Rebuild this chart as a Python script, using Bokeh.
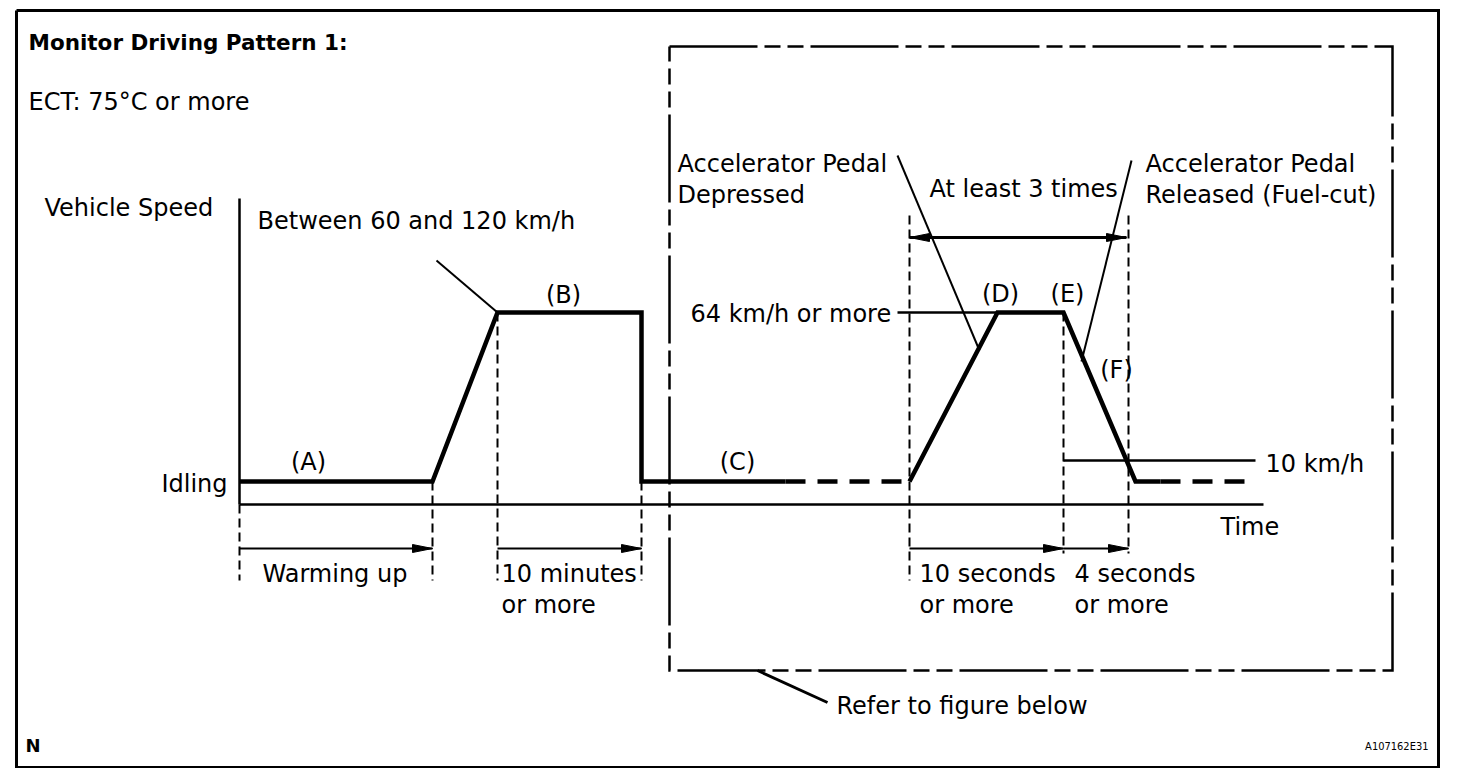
from bokeh.plotting import figure
from bokeh.models import Range1d
from bokeh.embed import file_html
from bokeh.resources import INLINE
from bokeh.core.properties import value

# ---------------- diagram data (page-layout coordinates) ----------------
IDLE_Y, HIGH_Y, TEN_Y, BASE_Y = 481, 312, 460, 504

# vehicle speed profile: solid parts
speed_solid_t = [[239, 432, 497, 641, 641, 785], [909, 997, 1063, 1135, 1160]]
speed_solid_v = [[IDLE_Y, IDLE_Y, HIGH_Y, HIGH_Y, IDLE_Y, IDLE_Y],
                 [IDLE_Y, HIGH_Y, HIGH_Y, IDLE_Y, IDLE_Y]]
# vehicle speed profile: dashed (repeat) parts
speed_dash_t = [[785, 909], [1160, 1255]]
speed_dash_v = [[IDLE_Y, IDLE_Y], [IDLE_Y, IDLE_Y]]

# reference levels (thin solid lines)
ref_t = [[897, 997], [1063, 1255], [239, 1263], [239, 239]]
ref_v = [[HIGH_Y, HIGH_Y], [TEN_Y, TEN_Y], [BASE_Y, BASE_Y], [198, BASE_Y]]

# phase boundaries (thin dashed verticals)
guide_t = [239, 432, 497, 641, 909, 1063, 1128]
guide_top = [BASE_Y, IDLE_Y, HIGH_Y, IDLE_Y, 215, HIGH_Y, 215]
guide_bottom = [580, 580, 580, 580, 580, 553, 553]

# duration arrows  (start, end, level)
arrow_start = [239, 497, 909, 1063]
arrow_end = [432, 641, 1063, 1128]
arrow_y = 548
# "At least 3 times" double arrow
repeat_start, repeat_end, repeat_y = 909, 1126, 237

# leader lines
leader_x = [[436, 497], [897, 979], [1131, 1081], [757, 827]]
leader_y = [[260, 312], [155, 350], [160, 361], [670, 702]]
leader_w = [2, 2, 2, 3]

# outer frame and "refer to figure below" box
frame_x = [16, 1438, 1438, 16, 16]
frame_y = [10, 10, 767, 767, 10]
box_x = [669, 1392, 1392, 669, 669]
box_y = [46, 46, 670, 670, 46]

# text labels: (text, x, baseline-y, align)
labels = [
    ("ECT: 75°C or more", 28, 101, "left"),
    ("Vehicle Speed", 44, 207, "left"),
    ("Between 60 and 120 km/h", 257, 220, "left"),
    ("Accelerator Pedal", 677, 163, "left"),
    ("Depressed", 677, 194, "left"),
    ("At least 3 times", 929, 188, "left"),
    ("Accelerator Pedal", 1145, 163, "left"),
    ("Released (Fuel-cut)", 1145, 194, "left"),
    ("(B)", 563, 294, "center"),
    ("64 km/h or more", 690, 313, "left"),
    ("(D)", 1000, 293, "center"),
    ("(E)", 1067, 293, "center"),
    ("(F)", 1116, 369, "center"),
    ("(A)", 308, 461, "center"),
    ("(C)", 737, 461, "center"),
    ("Idling", 227, 483, "right"),
    ("10 km/h", 1265, 463, "left"),
    ("Time", 1220, 526, "left"),
    ("Warming up", 262, 573, "left"),
    ("10 minutes", 501, 573, "left"),
    ("or more", 501, 604, "left"),
    ("10 seconds", 919, 573, "left"),
    ("or more", 919, 604, "left"),
    ("4 seconds", 1074, 573, "left"),
    ("or more", 1074, 604, "left"),
    ("Refer to figure below", 836, 705, "left"),
]

FONT = "DejaVu Sans"

# ---------------- figure ----------------
p = figure(width=1456, height=768, x_range=Range1d(0, 1456), y_range=Range1d(768, 0),
           output_backend="svg", toolbar_location=None, x_axis_type=None, y_axis_type=None,
           min_border=0, min_border_left=0, min_border_right=0, min_border_top=0,
           min_border_bottom=0)
p.grid.visible = False
p.outline_line_color = None
p.background_fill_color = "white"
p.border_fill_color = "white"

# frame
p.line(frame_x, frame_y, line_color="black", line_width=3, line_join="miter")
p.line(box_x, box_y, line_color="black", line_width=2.5, line_dash="88 7 16 7 16 7",
       line_join="miter")

# guides
p.segment(x0=guide_t, y0=guide_top, x1=guide_t, y1=guide_bottom, line_color="black",
          line_width=2, line_dash="9 5")

# thin reference lines
p.multi_line(ref_t, ref_v, line_color="black", line_width=2.5)

# speed profile
p.multi_line(speed_solid_t, speed_solid_v, line_color="black", line_width=4.5,
             line_join="miter")
p.multi_line(speed_dash_t, speed_dash_v, line_color="black", line_width=4.5,
             line_dash="20 12")

# leaders
for lx, ly, lw in zip(leader_x, leader_y, leader_w):
    p.line(lx, ly, line_color="black", line_width=lw)

# arrows
HEAD_L, HEAD_W = 20, 4
p.segment(x0=arrow_start, y0=[arrow_y] * len(arrow_start), x1=arrow_end,
          y1=[arrow_y] * len(arrow_end), line_color="black", line_width=2)
head_xs, head_ys = [], []
for s, e in zip(arrow_start, arrow_end):
    head_xs.append([e, e - HEAD_L, e - HEAD_L])
    head_ys.append([arrow_y, arrow_y - HEAD_W, arrow_y + HEAD_W])
p.segment(x0=[repeat_start], y0=[repeat_y], x1=[repeat_end], y1=[repeat_y],
          line_color="black", line_width=3)
head_xs.append([repeat_start, repeat_start + HEAD_L, repeat_start + HEAD_L])
head_ys.append([repeat_y, repeat_y - HEAD_W, repeat_y + HEAD_W])
head_xs.append([repeat_end, repeat_end - HEAD_L, repeat_end - HEAD_L])
head_ys.append([repeat_y, repeat_y - HEAD_W, repeat_y + HEAD_W])
p.patches(head_xs, head_ys, fill_color="black", line_color="black", line_width=1)

# labels
for align in ("left", "center", "right"):
    sub = [l for l in labels if l[3] == align]
    p.text(x=[l[1] for l in sub], y=[l[2] for l in sub], text=[l[0] for l in sub],
           text_font=value(FONT), text_font_size="24px", text_color="black",
           text_align=align, text_baseline="alphabetic")

p.text(x=[28], y=[42], text=["Monitor Driving Pattern 1:"], text_font=value(FONT),
       text_font_size="21.5px", text_font_style="bold", text_baseline="alphabetic")
p.text(x=[25], y=[745], text=["N"], text_font=value(FONT), text_font_size="18px",
       text_font_style="bold", text_baseline="alphabetic")
p.text(x=[1428], y=[746], text=["A107162E31"],
       text_font=value("'DejaVu Sans Condensed', 'Liberation Sans', sans-serif"),
       text_font_size="11px", text_align="right", text_baseline="alphabetic")

open("out.html", "w").write(file_html(p, INLINE))
